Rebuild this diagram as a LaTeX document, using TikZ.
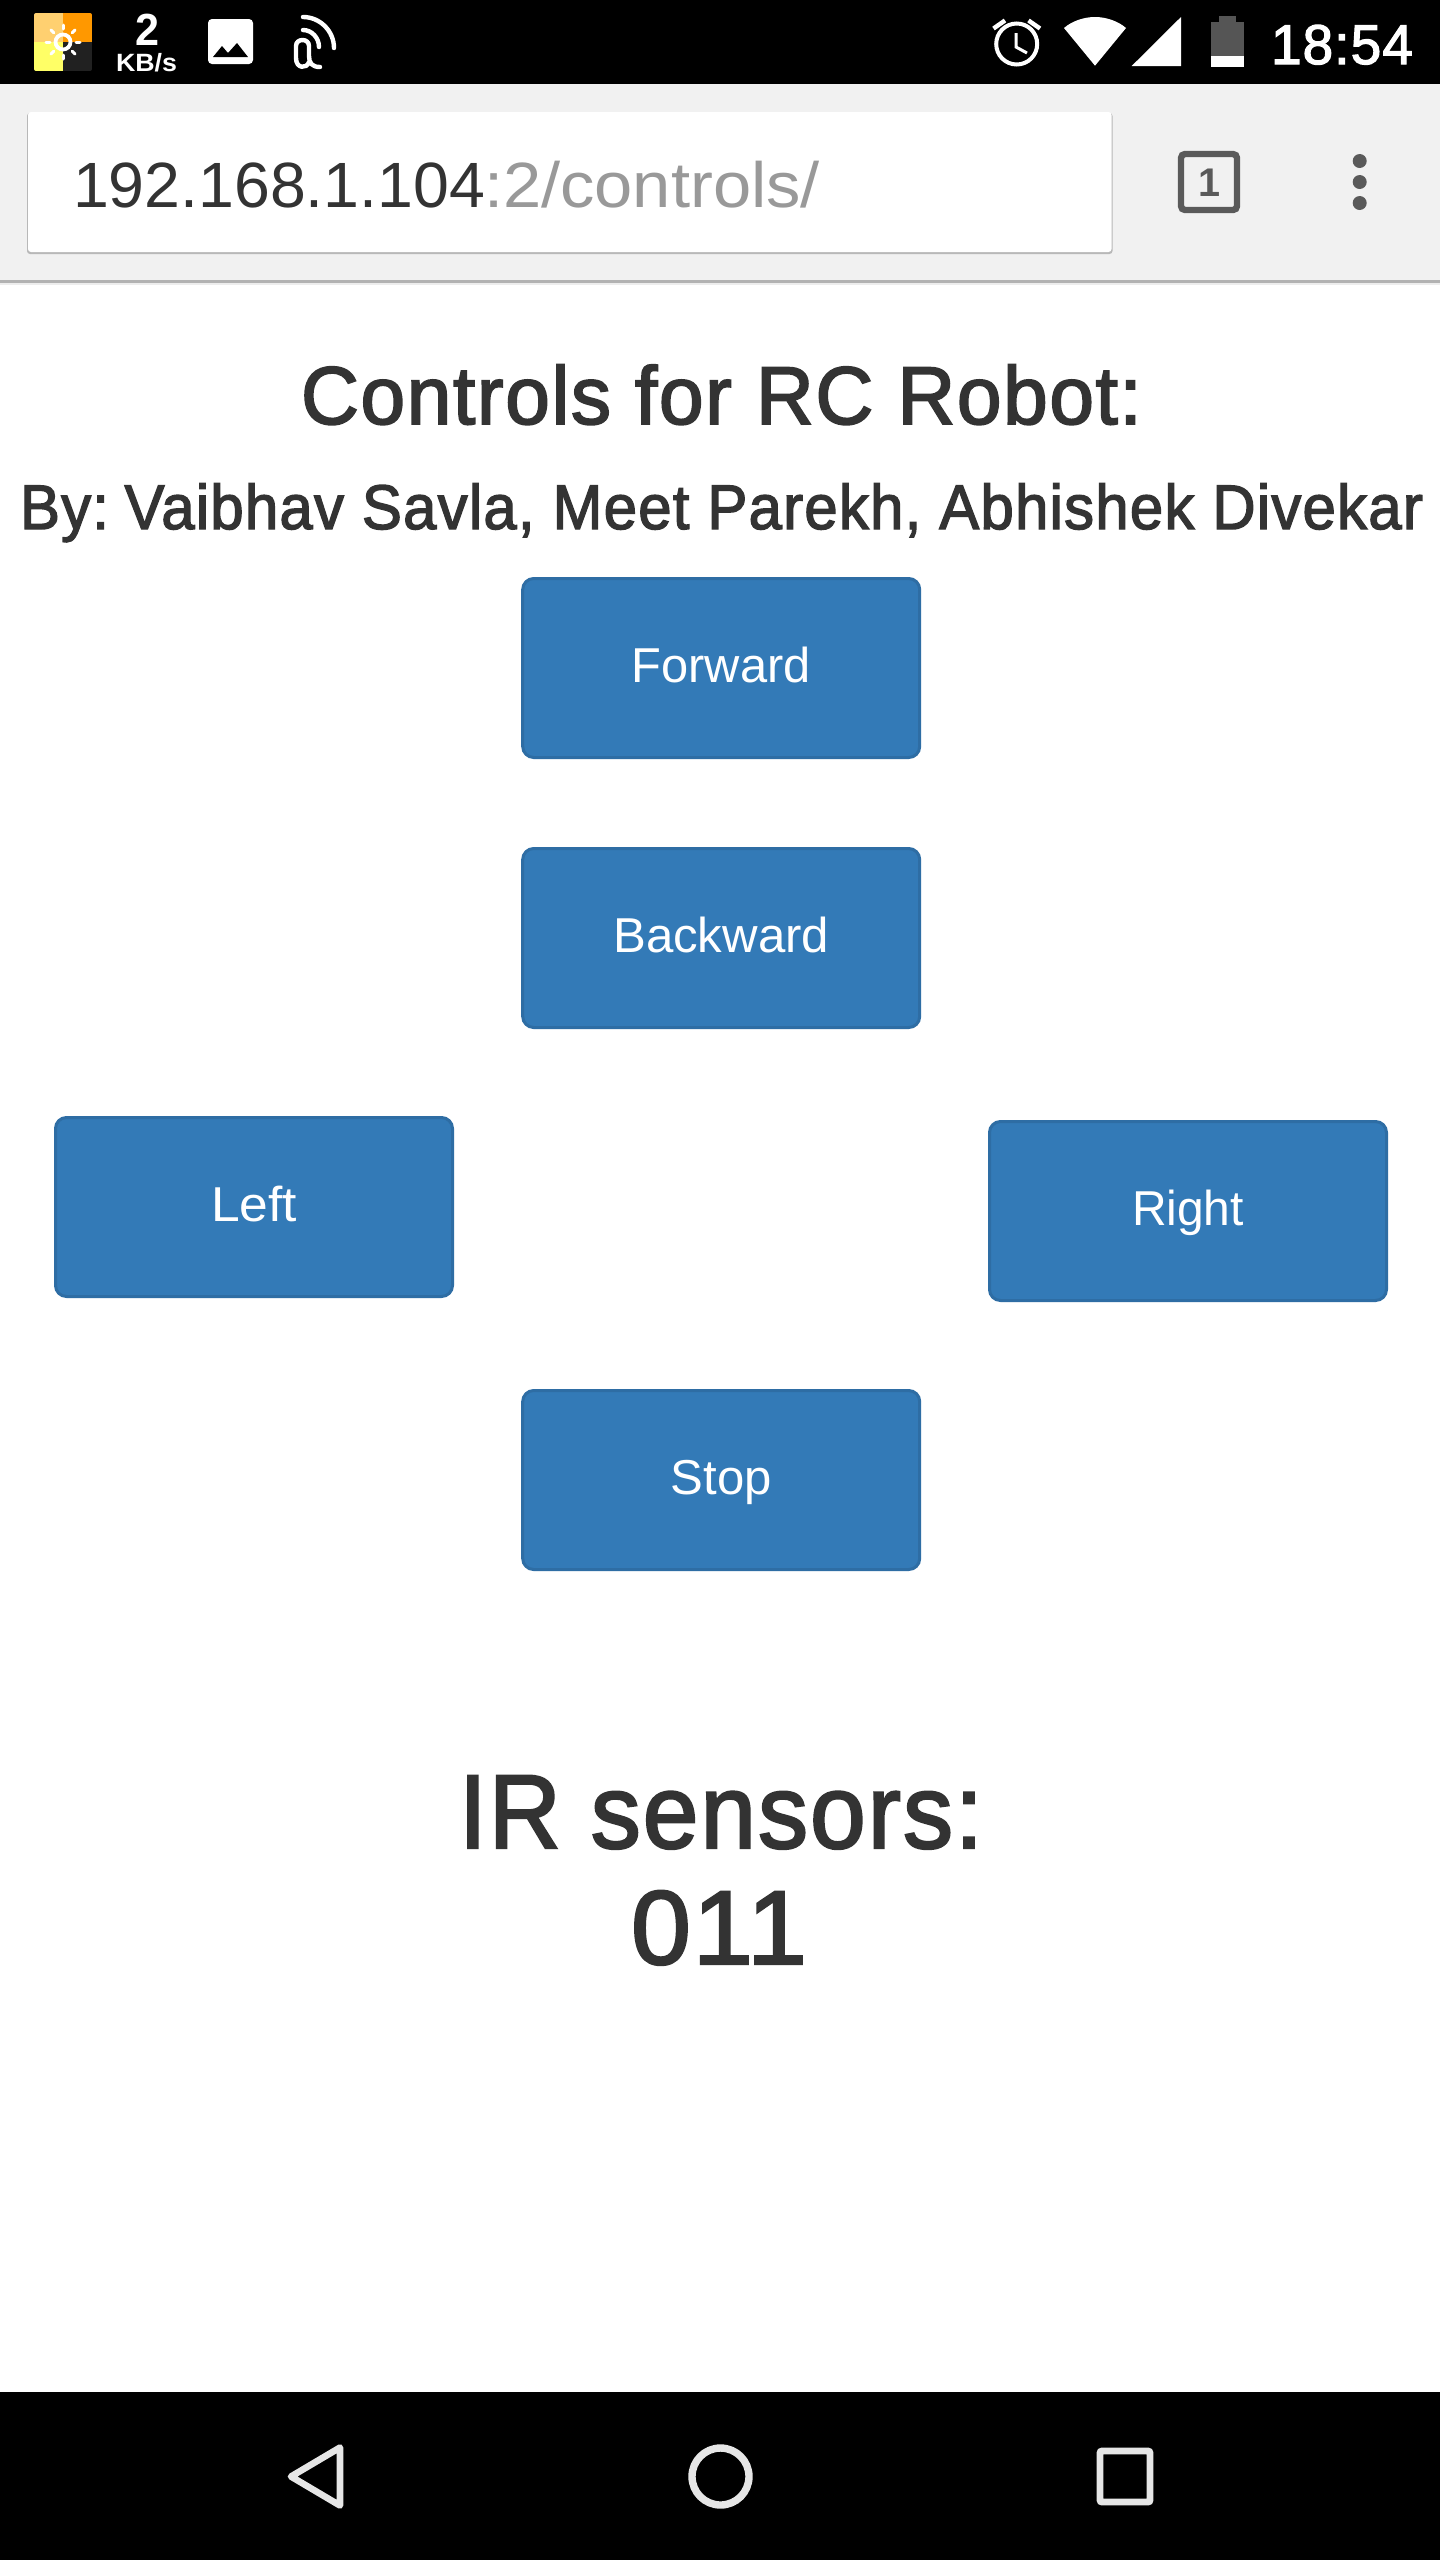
\documentclass[tikz,border=0pt]{standalone}
\usepackage{fontspec}
\usepackage{graphicx}
\usetikzlibrary{calc}
\setmainfont{Liberation Sans}
\definecolor{btn}{HTML}{337AB7}
\definecolor{btnb}{HTML}{2E6DA4}
\definecolor{ink}{HTML}{333333}
\definecolor{urlg}{HTML}{999999}
\definecolor{barbg}{HTML}{F1F1F1}
\definecolor{icong}{HTML}{5A5A5A}
\definecolor{navw}{HTML}{E6E6E6}
\definecolor{tlc}{HTML}{FFD070}
\definecolor{trc}{HTML}{FF9800}
\definecolor{blc}{HTML}{FFFF66}
\definecolor{brc}{HTML}{212121}
\definecolor{batg}{HTML}{555555}
\newsavebox{\fitbox}
\newcommand{\fitw}[2]{\sbox{\fitbox}{#2}\pgfmathsetmacro{\fitf}{#1*0.5/(\the\wd\fitbox)}\scalebox{\fitf}[1]{\usebox{\fitbox}}}
\newfontfamily\medfont[FakeBold=2.2,LetterSpace=2]{Liberation Sans}
\newcommand{\sz}[1]{\fontsize{#1}{#1}\selectfont}
\newcommand{\btnlabel}[2]{\raisebox{-7.25pt}{\fitw{#1}{\sz{24.5}#2}}}
\tikzset{x=0.5pt,y=-0.5pt,
 txt/.style={inner sep=0,outer sep=0,anchor=base west},
 btnbox/.style={fill=btn,draw=btnb,line width=1.5pt,rounded corners=5.5pt,text=white,
   minimum width=198.5pt,minimum height=89.5pt,inner sep=0,text height=0pt,text depth=0pt,anchor=center},
 whiteline/.style={draw=white,line width=2.2pt,line cap=round,line join=round},
 navline/.style={draw=navw,line width=3.3pt,line join=round},
}
\begin{document}
\begin{tikzpicture}
\useasboundingbox (0,0) rectangle (1440,2560);
\fill[white] (0,0) rectangle (1440,2560);
% bars
\fill[barbg] (0,84) rectangle (1440,280);
\fill[black!30] (0,280) rectangle (1440,282.5);
\fill[black!7] (0,282.5) rectangle (1440,285);
\fill[black] (0,0) rectangle (1440,84);
\fill[black] (0,2392) rectangle (1440,2560);
% app icon
\begin{scope}
\clip[rounded corners=1pt] (34,13) rectangle (92,71);
\fill[tlc] (34,13) rectangle (63,42);
\fill[trc] (63,13) rectangle (92,42);
\fill[blc] (34,42) rectangle (63,71);
\fill[brc] (63,42) rectangle (92,71);
\end{scope}
\draw[white,line width=1.9pt] (63,42) circle (7.5);
\foreach \a in {0,45,...,315}{
  \draw[white,line width=1.5pt,line cap=round] ($(63,42)+(\a:13)$) -- ($(63,42)+(\a:17)$);
}
% speed
\node[txt,text=white] (speedval) at (135,45) {\fitw{24}{\bfseries\sz{22.5}2}};
\node[txt,text=white] (speedunit) at (116,71) {\fitw{61}{\bfseries\sz{12.5}KB/s}};
% image icon
\fill[white,rounded corners=2pt] (208,19) rectangle (253,64);
\fill[black] (213,57) -- (222,46) -- (228,53) -- (237,43) -- (248,57) -- cycle;
% nfc-like icon
\draw[whiteline] (303,17) .. controls (320,17) and (334,31) .. (334,48);
\draw[whiteline] (303,30) .. controls (312,30) and (319,38) .. (319,47);
\draw[whiteline] (320,67) .. controls (312,67) and (309,63) .. (309,56) -- (309,46) .. controls (309,38) and (296,38) .. (296,46) -- (296,58) .. controls (296,69) and (307,69) .. (309,62);
% alarm
\draw[white,line width=2pt] (1016.7,44) circle (20.5);
\draw[white,line width=2.2pt] (993.5,28.5) -- (1005,20.5);
\draw[white,line width=2.2pt] (1040,28.5) -- (1028.5,20.5);
\draw[white,line width=1.5pt] (1016,33) -- (1016,47) -- (1027,53);
% wifi
\fill[white] (1095,65.7) -- (1064,28) .. controls (1072,21) and (1084,17) .. (1095,17) .. controls (1106,17) and (1118,21) .. (1126,28) -- cycle;
% signal
\fill[white] (1131.7,66) -- (1181,66) -- (1181,17) -- cycle;
% battery
\fill[batg] (1211,22) rectangle (1244,56);
\fill[batg] (1219,16) rectangle (1236,22);
\fill[white] (1211,56) rectangle (1244,66.7);
% time
\node[txt,text=white] (clock) at (1271,64) {\fitw{142}{\medfont\sz{28}18:54}};
% url box
\fill[black!28,rounded corners=1.5pt] (27,113) rectangle (1112.5,254);
\fill[white,rounded corners=1.5pt] (28,112) rectangle (1111.5,252);
\node[txt,text=ink] (urlhost) at (73,207) {\fitw{412}{\sz{32}192.168.1.104}};
\node[txt,text=urlg] (urlpath) at (484,207) {\fitw{336}{\sz{32}:2/controls/}};
% tabs
\draw[icong,line width=3.2pt,rounded corners=2pt] (1181,154) rectangle (1237,210);
\node[txt,text=icong] (tabcount) at (1198,196.7) {\fitw{22}{\bfseries\sz{20}1}};
\fill[icong] (1359.7,161) circle (7);
\fill[icong] (1359.7,182) circle (7);
\fill[icong] (1359.7,203) circle (7);
% headings
\node[txt,text=ink] (title) at (301,424) {\fitw{841}{\medfont\sz{41}Controls for RC Robot:}};
\node[txt,text=ink] (authors) at (20,529) {\fitw{1403}{\medfont\sz{31.5}By:\kern-0.14em{} Vaibhav Savla, Meet Parekh, Abhishek Divekar}};
\node[txt,text=ink] (sensors) at (459,1848) {\fitw{524}{\medfont\sz{52.5}IR sensors:}};
\node[txt,text=ink] (sensorval) at (631,1964) {\fitw{176}{\medfont\sz{52.5}011}};
% buttons
\node[btnbox] (forward) at (721.2,668) {\btnlabel{179}{Forward}};
\node[btnbox] (backward) at (721.2,938) {\btnlabel{216}{Backward}};
\node[btnbox] (left) at (254,1207) {\btnlabel{86}{Left}};
\node[btnbox] (right) at (1188,1211) {\btnlabel{112}{Right}};
\node[btnbox] (stop) at (721.2,1480) {\btnlabel{101}{Stop}};
% nav
\draw[navline] (340,2447.5) -- (291,2476.5) -- (340,2505.5) -- cycle;
\draw[navw,line width=3.7pt] (720.5,2476.5) circle (28.5);
\draw[navw,line width=3.4pt,rounded corners=1pt] (1100,2451) rectangle (1150,2502);
\end{tikzpicture}
\end{document}
